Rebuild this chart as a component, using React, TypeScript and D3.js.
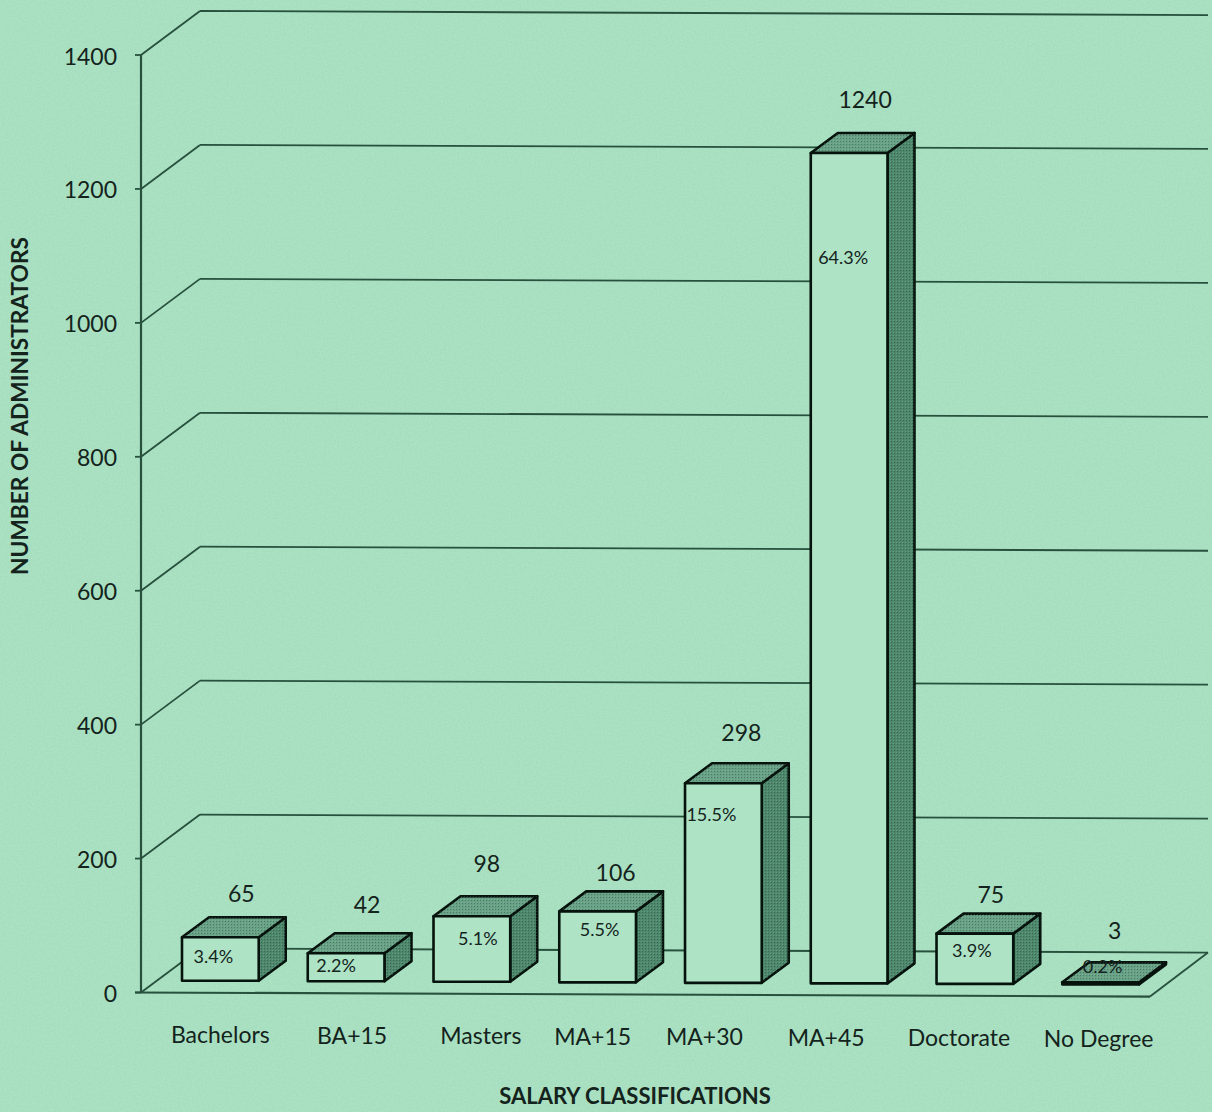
import React from "react";
import * as d3 from "d3";

const categories = ["Bachelors", "BA+15", "Masters", "MA+15", "MA+30", "MA+45", "Doctorate", "No Degree"];
const counts = [65, 42, 98, 106, 298, 1240, 75, 3];
const shares = ["3.4%", "2.2%", "5.1%", "5.5%", "15.5%", "64.3%", "3.9%", "0.2%"];
const yTicks = [0, 200, 400, 600, 800, 1000, 1200, 1400];

// hand-placed annotation nudges of the original figure (relative to each bar)
const catNudge = [0, 6, 9, -5, -19, -23, -16, -2];
const valNudgeX = [21, 21, 15, 18, 18, 16, 16, 14];
const valNudgeY = [-43, -48, -52, -38, -50, -53, -39, -51];
const pctNudgeX = [-7, -10, 6, 2, -12, -6, -3, 2];
const pctNudgeY = [19, 13, 23, 18, 31, 105, 17, -16];

const W = 1212, H = 1112;
const BG = "#abe2c3";
const INK = "#14231c";
const GRID = "#27503d";
const DX = 59, DY = -44;
const BDX = 27, BDY = -20;
const SLOPE = 0.004;
const FONT = "Lato, 'Open Sans', sans-serif";

const yScale = d3.scaleLinear().domain([0, 1400]).range([992.5, 55]);
const xScale = d3.scaleBand<string>().domain(categories).range([182, 1139]).paddingInner(0.39).paddingOuter(0);
const sk = (x: number, y: number) => y + SLOPE * (x - 141);
const pts = (a: [number, number][]) => a.map((p) => p.join(",")).join(" ");

export default function App() {
  const bw = xScale.bandwidth();
  return (
    <svg width={W} height={H} viewBox={`0 0 ${W} ${H}`} style={{ position: "fixed", left: 0, top: 0, display: "block" }} fontFamily={FONT}>
      <defs>
        <filter id="paper" x="0" y="0" width="100%" height="100%">
          <feTurbulence type="fractalNoise" baseFrequency="0.55" numOctaves="3" seed="7" />
          <feColorMatrix values="0 0 0 0 0.2  0 0 0 0 0.45  0 0 0 0 0.32  0 0 0 0.5 -0.16" />
        </filter>
        <pattern id="dither" width="3" height="3" patternUnits="userSpaceOnUse">
          <rect width="1" height="1" fill="#000" fillOpacity="0.25" />
          <rect x="2" y="2" width="1" height="1" fill="#fff" fillOpacity="0.14" />
        </pattern>
      </defs>
      <rect width={W} height={H} fill={BG} />
      <rect width={W} height={H} filter="url(#paper)" opacity={0.5} />

      {yTicks.map((t) => {
        const y = yScale(t);
        return (
          <g key={t} stroke={GRID} strokeWidth={1.8} fill="none">
            <line x1={141} y1={y} x2={141 + DX} y2={y + DY} />
            <line x1={141 + DX} y1={y + DY} x2={1208} y2={y + DY + SLOPE * 1008} />
            <line x1={135} y1={y} x2={141} y2={y} />
          </g>
        );
      })}
      <line x1={141} y1={yScale(1400)} x2={141} y2={yScale(0)} stroke={GRID} strokeWidth={2.2} />
      <line x1={135} y1={yScale(0)} x2={1150} y2={sk(1150, yScale(0))} stroke={GRID} strokeWidth={2.2} />
      <line x1={1150} y1={sk(1150, yScale(0))} x2={1208} y2={yScale(0) + DY + SLOPE * 1008} stroke={GRID} strokeWidth={1.8} />

      {yTicks.map((t) => (
        <text key={t} x={117} y={yScale(t) + 1.5} dy="0.35em" textAnchor="end" fontSize={23} fill={INK}>
          {t}
        </text>
      ))}

      {categories.map((c, i) => {
        const x0 = xScale(c)!;
        const x1 = x0 + bw;
        const base = sk(x0 + bw / 2, yScale(0)) - 12;
        const top = base - (yScale(0) - yScale(counts[i]));
        const topFace: [number, number][] = [[x0, top], [x0 + BDX, top + BDY], [x1 + BDX, top + BDY], [x1, top]];
        const sideFace: [number, number][] = [[x1, top], [x1 + BDX, top + BDY], [x1 + BDX, base + BDY], [x1, base]];
        return (
          <g key={c} stroke="#06120c" strokeWidth={2.6} strokeLinejoin="round">
            <polygon points={pts(sideFace)} fill="#4d886c" />
            <polygon points={pts(sideFace)} fill="url(#dither)" stroke="none" />
            <polygon points={pts(topFace)} fill="#68a286" />
            <polygon points={pts(topFace)} fill="url(#dither)" stroke="none" />
            <rect x={x0} y={top} width={bw} height={base - top} fill="#aee3c6" />
          </g>
        );
      })}

      {categories.map((c, i) => {
        const x0 = xScale(c)!;
        const cx = x0 + bw / 2;
        const base = sk(cx, yScale(0)) - 12;
        const top = base - (yScale(0) - yScale(counts[i]));
        return (
          <g key={c} fill={INK} textAnchor="middle">
            <text x={cx + valNudgeX[i]} y={top + valNudgeY[i]} dy="0.35em" fontSize={23}>{counts[i]}</text>
            <text x={cx + pctNudgeX[i]} y={top + pctNudgeY[i]} dy="0.35em" fontSize={18}>{shares[i]}</text>
            <text x={cx + catNudge[i]} y={sk(cx, 1035)} dy="0.35em" fontSize={23}>{c}</text>
          </g>
        );
      })}

      <text x={635} y={1096} dy="0.35em" textAnchor="middle" fontSize={22} fontWeight={700} fill={INK}>SALARY CLASSIFICATIONS</text>
      <text transform="translate(20,406) rotate(-90)" dy="0.35em" textAnchor="middle" fontSize={22.7} fontWeight={700} fill={INK}>NUMBER OF ADMINISTRATORS</text>
    </svg>
  );
}
